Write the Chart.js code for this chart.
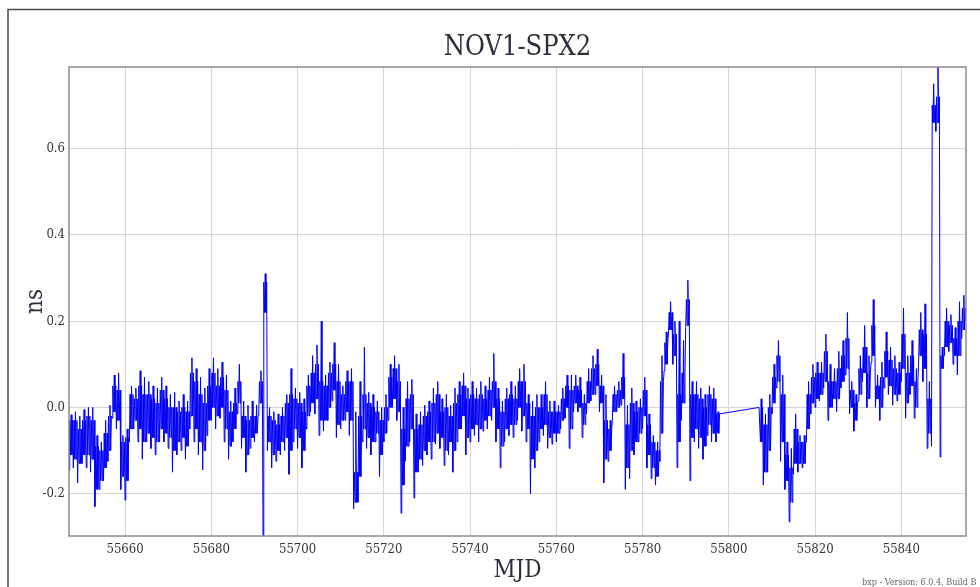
<!DOCTYPE html>
<html>
<head>
<meta charset="utf-8">
<title>NOV1-SPX2</title>
<script src="https://cdn.jsdelivr.net/npm/chart.js@4.4.1/dist/chart.umd.min.js"></script>
<style>
    html, body { margin: 0; padding: 0; background: #fff; }
    canvas { display: block; }
</style>
</head>
<body>
<canvas id="clock-chart" width="980" height="587"></canvas>
<script>
// NOV1-SPX2 clock difference (ns), summarised per MJD day:
// lo/hi are the extreme excursions, coreLo/coreHi the dense part of the trace
const firstDay = 55647;

const loNs = [
    -0.145, -0.14, -0.175, -0.13, -0.14, -0.15, -0.23, -0.19, -0.17, -0.125,      // 55647
    -0.025, -0.05, -0.19, -0.215, -0.08, -0.05, -0.08, -0.12, -0.08, -0.095,      // 55657
    -0.11, -0.08, -0.08, -0.095, -0.15, -0.11, -0.10, -0.12, -0.05, -0.08,        // 55667
    -0.11, -0.145, -0.065, -0.03, -0.05, -0.025, -0.08, -0.12, -0.08, -0.015,     // 55677
    -0.095, -0.15, -0.095, -0.08, -0.015, -0.32, -0.10, -0.14, -0.125, -0.11,     // 55687
    -0.10, -0.155, -0.08, -0.095, -0.14, -0.05, -0.01, -0.015, -0.065, -0.055,    // 55697
    -0.03, 0.015, -0.07, -0.05, -0.03, -0.065, -0.235, -0.22, -0.08, -0.095,      // 55707
    -0.11, -0.08, -0.16, -0.08, -0.03, 0.0, -0.03, -0.245, -0.125, -0.08,         // 55717
    -0.21, -0.15, -0.135, -0.11, -0.12, -0.085, -0.095, -0.135, -0.11, -0.15,     // 55727
    -0.08, -0.05, -0.11, -0.08, -0.065, -0.08, -0.055, -0.05, -0.03, -0.08,       // 55737
    -0.14, -0.08, -0.065, -0.07, -0.03, -0.055, -0.08, -0.20, -0.14, -0.08,       // 55747
    -0.065, -0.095, -0.085, -0.08, -0.05, -0.025, -0.095, -0.01, -0.01, -0.07,    // 55757
    -0.015, 0.015, 0.03, -0.01, -0.175, -0.125, -0.03, -0.01, 0.005, -0.19,       // 55767
    -0.165, -0.11, -0.08, -0.05, -0.14, -0.165, -0.18, -0.125, 0.085, 0.17,       // 55777
    0.10, -0.14, -0.03, 0.185, -0.17, -0.08, -0.095, -0.12, -0.065, -0.08,        // 55787
    -0.08, null, null, null, null, null, null, null, null, null,                  // 55797
    0.0, -0.18, -0.15, -0.015, 0.045, -0.125, -0.19, -0.265, -0.155, -0.15,       // 55807
    -0.14, -0.08, -0.015, 0.0, 0.015, 0.045, -0.03, 0.0, -0.01, 0.045,            // 55817
    0.075, -0.015, -0.055, 0.015, 0.06, 0.0, 0.105, 0.0, -0.03, 0.045,            // 55827
    0.03, 0.005, 0.015, 0.06, -0.025, 0.03, -0.025, 0.10, 0.06, -0.095,           // 55837
    -0.09, 0.64, -0.115, 0.12, 0.13, 0.10, 0.075, 0.16, 0.20                      // 55847
];

const coreLoNs = [
    -0.11, -0.12, -0.13, -0.11, -0.11, -0.12, -0.19, -0.17, -0.14, -0.10,         // 55647
    -0.01, -0.03, -0.16, -0.17, -0.05, -0.03, -0.05, -0.08, -0.06, -0.07,         // 55657
    -0.08, -0.05, -0.06, -0.07, -0.10, -0.08, -0.07, -0.09, -0.02, -0.05,         // 55667
    -0.08, -0.10, -0.03, 0.00, -0.02, 0.00, -0.05, -0.09, -0.05, 0.01,            // 55677
    -0.07, -0.11, -0.07, -0.06, 0.01, 0.22, -0.08, -0.11, -0.10, -0.08,           // 55687
    -0.07, -0.10, -0.05, -0.07, -0.10, -0.02, 0.01, 0.02, -0.03, -0.03,           // 55697
    0.00, 0.04, -0.04, -0.03, -0.01, -0.03, -0.22, -0.16, -0.05, -0.07,           // 55707
    -0.08, -0.06, -0.11, -0.06, 0.00, 0.02, -0.01, -0.18, -0.09, -0.05,           // 55717
    -0.15, -0.12, -0.10, -0.08, -0.08, -0.06, -0.07, -0.10, -0.08, -0.10,         // 55727
    -0.05, -0.02, -0.07, -0.05, -0.04, -0.05, -0.03, -0.02, 0.00, -0.05,          // 55737
    -0.09, -0.05, -0.04, -0.04, 0.00, -0.02, -0.05, -0.12, -0.10, -0.05,          // 55747
    -0.04, -0.07, -0.06, -0.06, -0.03, 0.00, -0.05, 0.01, 0.00, -0.04,            // 55757
    0.01, 0.03, 0.05, 0.01, -0.12, -0.10, -0.01, 0.00, 0.02, -0.14,               // 55767
    -0.10, -0.08, -0.06, -0.02, -0.11, -0.14, -0.16, -0.06, 0.10, 0.18,           // 55777
    0.12, -0.08, 0.01, 0.19, -0.07, -0.05, -0.07, -0.09, -0.04, -0.06,            // 55787
    -0.06, null, null, null, null, null, null, null, null, null,                  // 55797
    -0.08, -0.15, -0.10, 0.01, 0.06, -0.08, -0.17, -0.22, -0.13, -0.13,           // 55807
    -0.13, -0.05, 0.01, 0.02, 0.03, 0.06, 0.00, 0.02, 0.02, 0.06,                 // 55817
    0.09, 0.00, -0.03, 0.03, 0.08, 0.02, 0.12, 0.02, 0.00, 0.07,                  // 55827
    0.05, 0.03, 0.03, 0.09, 0.01, 0.05, 0.00, 0.12, 0.09, -0.06,                  // 55837
    0.66, 0.66, 0.09, 0.14, 0.15, 0.12, 0.12, 0.18, 0.21                          // 55847
];

const coreHiNs = [
    -0.03, -0.03, -0.05, -0.03, -0.02, -0.03, -0.09, -0.10, -0.06, -0.02,         // 55647
    0.05, 0.04, -0.08, -0.07, 0.03, 0.02, 0.05, 0.03, 0.03, 0.02,                 // 55657
    0.01, 0.04, 0.02, 0.00, 0.00, -0.01, 0.00, -0.01, 0.08, 0.06,                 // 55667
    0.03, 0.01, 0.05, 0.08, 0.05, 0.07, 0.04, -0.01, 0.01, 0.06,                  // 55677
    -0.02, -0.03, -0.02, -0.02, 0.06, 0.29, -0.02, -0.03, -0.04, -0.02,           // 55687
    0.01, 0.03, 0.02, 0.01, -0.01, 0.05, 0.08, 0.10, 0.06, 0.05,                  // 55697
    0.08, 0.10, 0.06, 0.03, 0.06, 0.06, -0.15, -0.02, 0.03, 0.01,                 // 55707
    0.00, -0.01, -0.03, 0.00, 0.07, 0.09, 0.06, -0.05, 0.02, 0.03,                // 55717
    -0.05, -0.04, -0.02, -0.01, 0.01, 0.03, -0.01, 0.00, -0.02, 0.01,             // 55727
    0.03, 0.05, 0.02, 0.03, 0.02, 0.03, 0.02, 0.04, 0.06, 0.02,                   // 55737
    -0.01, 0.02, 0.03, 0.02, 0.06, 0.06, 0.01, -0.02, 0.00, 0.00,                 // 55747
    0.03, -0.01, -0.01, -0.01, 0.02, 0.05, 0.04, 0.05, 0.04, 0.01,                // 55757
    0.06, 0.09, 0.10, 0.05, -0.03, -0.05, 0.03, 0.04, 0.07, -0.04,                // 55767
    0.01, -0.01, 0.00, 0.04, -0.04, -0.08, -0.10, 0.06, 0.15, 0.22,               // 55777
    0.17, 0.03, 0.08, 0.25, 0.03, 0.03, 0.02, 0.00, 0.03, 0.02,                   // 55787
    -0.015, null, null, null, null, null, null, null, null, null,                 // 55797
    0.00, -0.04, 0.00, 0.07, 0.12, 0.03, -0.11, -0.14, -0.05, -0.08,              // 55807
    -0.08, 0.03, 0.07, 0.08, 0.08, 0.13, 0.06, 0.06, 0.09, 0.12,                  // 55817
    0.16, 0.04, 0.01, 0.09, 0.14, 0.08, 0.19, 0.05, 0.07, 0.13,                   // 55827
    0.11, 0.09, 0.08, 0.17, 0.08, 0.12, 0.06, 0.18, 0.17, 0.02,                   // 55837
    0.70, 0.72, 0.12, 0.20, 0.19, 0.16, 0.20, 0.23, 0.25                          // 55847
];

const hiNs = [
    -0.017, -0.01, -0.02, -0.005, 0.0, 0.0, -0.065, -0.08, -0.03, 0.005,          // 55647
    0.075, 0.08, -0.065, -0.05, 0.05, 0.045, 0.085, 0.07, 0.06, 0.05,             // 55657
    0.045, 0.07, 0.05, 0.03, 0.035, 0.015, 0.03, 0.015, 0.115, 0.09,              // 55667
    0.07, 0.045, 0.09, 0.115, 0.09, 0.105, 0.075, 0.015, 0.045, 0.10,             // 55677
    0.015, 0.005, 0.015, 0.005, 0.085, 0.31, 0.0, -0.01, -0.015, 0.0,             // 55687
    0.03, 0.09, 0.045, 0.035, 0.02, 0.075, 0.12, 0.145, 0.20, 0.075,              // 55697
    0.105, 0.15, 0.10, 0.05, 0.085, 0.09, -0.01, 0.06, 0.14, 0.035,               // 55707
    0.03, 0.015, 0.0, 0.03, 0.10, 0.12, 0.10, 0.0, 0.06, 0.065,                   // 55717
    -0.015, -0.01, 0.005, 0.015, 0.045, 0.06, 0.02, 0.03, 0.005, 0.045,           // 55727
    0.06, 0.08, 0.045, 0.06, 0.045, 0.06, 0.05, 0.07, 0.125, 0.045,               // 55737
    0.015, 0.045, 0.06, 0.05, 0.09, 0.10, 0.03, 0.015, 0.03, 0.03,                // 55747
    0.06, 0.015, 0.015, 0.005, 0.045, 0.075, 0.075, 0.075, 0.07, 0.03,            // 55757
    0.09, 0.12, 0.135, 0.075, 0.03, -0.03, 0.05, 0.06, 0.125, 0.005,              // 55767
    0.045, 0.015, 0.02, 0.07, -0.015, -0.065, -0.08, 0.12, 0.175, 0.245,          // 55777
    0.20, 0.20, 0.155, 0.295, 0.06, 0.06, 0.045, 0.03, 0.05, 0.045,               // 55787
    -0.01, null, null, null, null, null, null, null, null, null,                  // 55797
    0.02, -0.015, 0.03, 0.10, 0.155, 0.075, -0.08, -0.095, -0.015, -0.065,        // 55807
    -0.065, 0.06, 0.10, 0.105, 0.105, 0.17, 0.10, 0.09, 0.13, 0.155,              // 55817
    0.22, 0.06, 0.03, 0.12, 0.19, 0.12, 0.25, 0.075, 0.105, 0.175,                // 55827
    0.14, 0.12, 0.105, 0.23, 0.12, 0.155, 0.09, 0.22, 0.24, 0.06,                 // 55837
    0.75, 0.80, 0.14, 0.23, 0.215, 0.185, 0.245, 0.26, 0.275                      // 55847
];

const xTicks = { min: 55647, max: 55855, step: 20 };
const yTicks = { min: -0.298, max: 0.789, step: 0.2 };

const serif = "'DejaVu Serif Condensed', 'DejaVu Serif', serif";

// within a day the trace swings through the core band and out to both extremes
const buildPoints = () => {
    const pts = [];
    loNs.forEach((lo, i) => {
        if (lo === null) return;
        const day = firstDay + i;
        const swing = [lo, coreHiNs[i], coreLoNs[i], hiNs[i], coreLoNs[i], coreHiNs[i]];
        swing.forEach((y, k) => pts.push({ x: day + k / swing.length, y: y }));
    });
    return pts;
};

// page frame, plot box and version note
const decorations = {
    id: 'decorations',
    beforeDraw: (chart) => {
        const c = chart.ctx;
        c.save();
        c.fillStyle = '#fff';
        c.fillRect(0, 0, chart.width, chart.height);
        c.strokeStyle = '#4a4a4a';
        c.lineWidth = 1.5;
        c.strokeRect(8, 9.5, 1100, 1100);
        c.restore();
    },
    afterDraw: (chart) => {
        const a = chart.chartArea;
        const c = chart.ctx;
        c.save();
        c.strokeStyle = '#8c8c8c';
        c.lineWidth = 1.5;
        c.strokeRect(a.left, a.top, a.right - a.left, a.bottom - a.top);
        c.fillStyle = '#666';
        c.font = "9px " + serif;
        c.textBaseline = 'alphabetic';
        c.fillText('bxp - Version: 6.0.4, Build B', 862, 585);
        c.restore();
    }
};

const ctx = document.getElementById('clock-chart').getContext('2d');

const chart = new Chart(ctx, {
    type: 'line',
    data: {
        datasets: [{
            label: 'NOV1-SPX2',
            data: buildPoints(),
            borderColor: 'rgb(0, 0, 245)',
            borderWidth: 1,
            pointRadius: 0,
            tension: 0,
            fill: false
        }]
    },
    options: {
        responsive: false,
        animation: false,
        layout: { padding: { left: 0, right: 14, top: 0, bottom: 0 } },
        plugins: {
            legend: { display: false },
            tooltip: { enabled: false },
            title: {
                display: true,
                fullSize: false,
                text: 'NOV1-SPX2',
                color: '#2e2e40',
                font: { family: serif, size: 27, weight: 'normal', lineHeight: 1 },
                padding: { top: 34, bottom: 6 }
            }
        },
        scales: {
            x: {
                type: 'linear',
                min: xTicks.min,
                max: xTicks.max,
                border: { display: false },
                grid: { color: '#d6d6d6', lineWidth: 1, drawTicks: false },
                ticks: {
                    stepSize: xTicks.step,
                    includeBounds: false,
                    padding: 6,
                    color: '#333',
                    font: { family: serif, size: 13 },
                    callback: (v) => String(v)
                },
                title: {
                    display: true,
                    text: 'MJD',
                    color: '#2e2e40',
                    font: { family: serif, size: 24, lineHeight: 1 },
                    padding: { top: 0, bottom: 4 }
                },
                afterFit: (s) => { s.height = 51; }
            },
            y: {
                min: yTicks.min,
                max: yTicks.max,
                border: { display: false },
                grid: { color: '#d6d6d6', lineWidth: 1, drawTicks: false },
                ticks: {
                    stepSize: yTicks.step,
                    includeBounds: false,
                    padding: 4,
                    color: '#333',
                    font: { family: serif, size: 13 },
                    callback: (v) => v.toFixed(1)
                },
                title: {
                    display: true,
                    text: 'ns',
                    color: '#2e2e40',
                    font: { family: serif, size: 24, lineHeight: 1 },
                    padding: { top: 24, bottom: 0 }
                },
                afterFit: (s) => { s.width = 69; }
            }
        }
    },
    plugins: [decorations]
});
</script>
</body>
</html>
